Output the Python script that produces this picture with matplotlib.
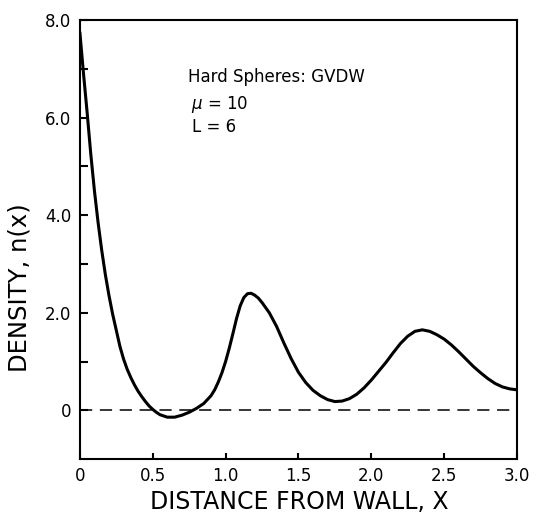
import numpy as np
import matplotlib
matplotlib.use('Agg')
import matplotlib.pyplot as plt

# density profile n(x)
x_dist = [0.00, 0.025, 0.05, 0.075, 0.10, 0.125, 0.15, 0.175, 0.20, 0.225,
          0.25, 0.275, 0.30, 0.325, 0.35, 0.375, 0.40, 0.425, 0.45, 0.475,
          0.50, 0.525, 0.55, 0.60, 0.65, 0.70, 0.75, 0.80, 0.85, 0.90,
          0.925, 0.95, 0.975, 1.00, 1.025, 1.05, 1.075, 1.10, 1.125, 1.15,
          1.175, 1.20, 1.225, 1.25, 1.30, 1.35, 1.40, 1.45, 1.50, 1.55,
          1.60, 1.65, 1.70, 1.75, 1.80, 1.85, 1.90, 1.95, 2.00, 2.05,
          2.10, 2.15, 2.20, 2.25, 2.30, 2.35, 2.40, 2.45, 2.50, 2.55,
          2.60, 2.65, 2.70, 2.75, 2.80, 2.85, 2.90, 2.95, 3.00]
density = [7.75, 6.90, 6.10, 5.25, 4.50, 3.85, 3.28, 2.78, 2.35, 1.97,
           1.64, 1.31, 1.05, 0.84, 0.67, 0.52, 0.39, 0.28, 0.18, 0.09,
           0.02, -0.04, -0.09, -0.14, -0.14, -0.10, -0.04, 0.04, 0.14, 0.30,
           0.42, 0.58, 0.77, 1.00, 1.27, 1.57, 1.88, 2.14, 2.31, 2.39,
           2.40, 2.36, 2.30, 2.21, 2.00, 1.72, 1.38, 1.06, 0.78, 0.57,
           0.41, 0.30, 0.22, 0.18, 0.19, 0.24, 0.33, 0.46, 0.62, 0.80,
           0.98, 1.18, 1.37, 1.52, 1.62, 1.65, 1.62, 1.55, 1.46, 1.34,
           1.20, 1.05, 0.90, 0.77, 0.65, 0.55, 0.48, 0.44, 0.42]

xticks = [0, 0.5, 1.0, 1.5, 2.0, 2.5, 3.0]
xtick_labels = ['0', '0.5', '1.0', '1.5', '2.0', '2.5', '3.0']
yticks = [0, 2, 4, 6, 8]
ytick_labels = ['0', '2.0', '4.0', '6.0', '8.0']
yminor = [1, 3, 5, 7]

fig = plt.figure(figsize=(5.36, 5.13), dpi=100)
ax = fig.add_axes([0.149, 0.105, 0.8156, 0.856])

ax.plot(x_dist, density, color='black', lw=2.2, solid_joinstyle='round',
        solid_capstyle='round')
ax.axhline(0, color='black', lw=1.1, dashes=(8, 5))

ax.set_xlim(0, 3.0)
ax.set_ylim(-1, 8)
ax.set_xticks(xticks)
ax.set_xticklabels(xtick_labels)
ax.set_yticks(yticks)
ax.set_yticklabels(ytick_labels)
ax.set_yticks(yminor, minor=True)

for s in ax.spines.values():
    s.set_linewidth(1.5)
ax.tick_params(axis='both', which='both', direction='in', width=1.5,
               labelsize=12, pad=6, top=False, right=False)
ax.tick_params(axis='y', which='both', length=6)
ax.tick_params(axis='x', which='both', length=4)

ax.set_xlabel('DISTANCE FROM WALL, X', fontsize=17)
ax.set_ylabel('DENSITY, n(x)', fontsize=17.5)
ax.xaxis.set_label_coords(0.501, -0.07)
ax.yaxis.set_label_coords(-0.11, 0.39)
ax.xaxis.label.set_va('top')

ax.text(0.74, 6.73, 'Hard Spheres: GVDW', fontsize=12, va='baseline')
ax.text(0.76, 6.18, r'$\mu$ = 10', fontsize=12, va='baseline')
ax.text(0.77, 5.71, 'L = 6', fontsize=12, va='baseline')

fig.savefig('out.png', dpi=100)
